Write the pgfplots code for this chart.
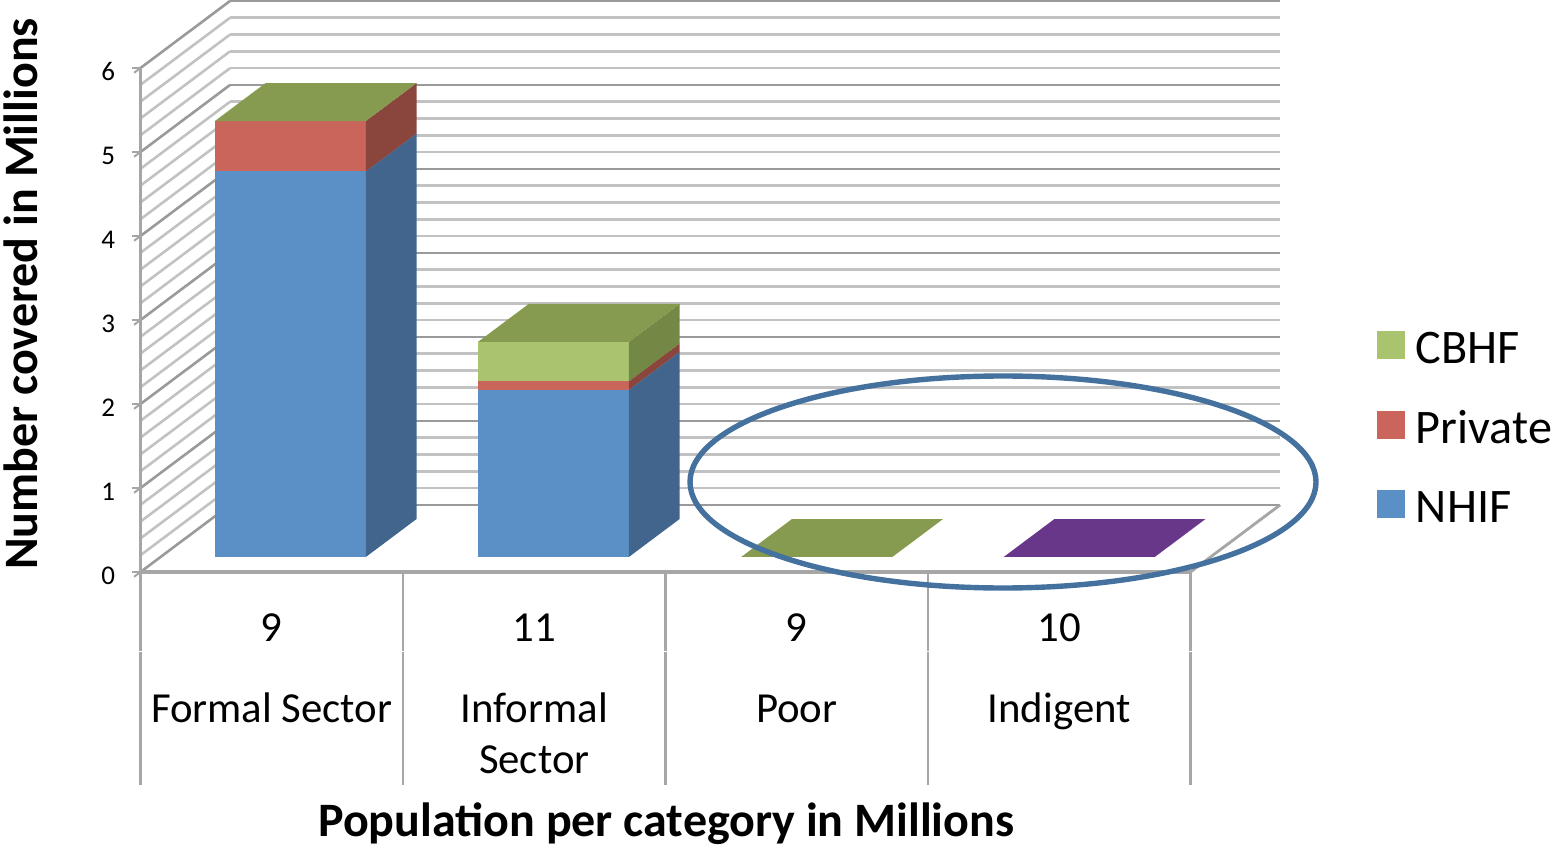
\documentclass[border=0pt]{standalone}
\usepackage{fontspec}
\setmainfont{Carlito}
\usepackage{pgfplots}
\pgfplotsset{compat=1.18}

\definecolor{nhif}{HTML}{5B90C6}
\definecolor{nhifside}{HTML}{41658D}
\definecolor{priv}{HTML}{CA655B}
\definecolor{privside}{HTML}{8A453C}
\definecolor{cbhf}{HTML}{AAC36F}
\definecolor{cbhfside}{HTML}{738845}
\definecolor{cbhftop}{HTML}{869A50}
\definecolor{indigent}{HTML}{69378A}
\definecolor{gridmajor}{HTML}{9A9A9A}
\definecolor{gridminor}{HTML}{C2C2C2}
\definecolor{axisgray}{HTML}{A6A6A6}
\definecolor{ring}{HTML}{45719F}

% One stacked segment: category start, lower and upper value, three face colours.
% The bars occupy depth 0.224 to 0.791 of the floor and 0.575 of a category.
\newcommand{\segment}[6]{%
  \pgfmathsetmacro{\xa}{#1}%
  \pgfmathsetmacro{\xb}{#1+0.575}%
  \edef\temp{\noexpand\addplot3[fill=#4,draw=none,forget plot] coordinates
    {(\xa,0.224,#2) (\xb,0.224,#2) (\xb,0.224,#3) (\xa,0.224,#3)} --cycle;
  \noexpand\addplot3[fill=#5,draw=none,forget plot] coordinates
    {(\xb,0.224,#2) (\xb,0.791,#2) (\xb,0.791,#3) (\xb,0.224,#3)} --cycle;
  \noexpand\addplot3[fill=#6,draw=none,forget plot] coordinates
    {(\xa,0.224,#3) (\xb,0.224,#3) (\xb,0.791,#3) (\xa,0.791,#3)} --cycle;}%
  \temp
}
\newcommand{\catfont}{\fontsize{21.4}{25}\selectfont}
\newcommand{\titlefont}{\bfseries\fontsize{24}{28}\selectfont}

\begin{document}
\begin{tikzpicture}
\path[use as bounding box] (-70.25pt,-137pt) rectangle (705.25pt,286pt);
\begin{axis}[
  at={(0pt,0pt)}, anchor=origin,
  x={(131.25pt,0pt)}, y={(44.75pt,33.5pt)}, z={(0pt,42pt)},
  xmin=0, xmax=4, ymin=0, ymax=1, zmin=0, zmax=6,
  clip=false,
  axis lines=left,
  axis line style={-, draw=axisgray, line width=1.4pt},
  xtick=\empty, ytick=\empty,
  ztick={0,1,2,3,4,5,6},
  minor z tick num=4,
  zmajorgrids, zminorgrids,
  major grid style={draw=gridmajor, line width=1.3pt},
  minor grid style={draw=gridminor, line width=1.3pt},
  minor tick length=0pt,
  major tick length=4pt,
  tick align=outside,
  tick style={draw=axisgray, line width=1pt},
  /pgf/number format/assume math mode=true,
  ticklabel style={font=\fontsize{13.5}{15}\selectfont, text=black},
  zticklabel style={xshift=-6pt, yshift=2.8pt},
  legend style={at={(axis cs:4.709,0,2.905)}, anchor=north west, draw=none, fill=none,
    inner sep=0pt, outer sep=0pt, row sep=18.25pt,
    font=\fontsize{24.1}{28}\selectfont},
  legend cell align=left,
  legend image code/.code={\fill[#1] (0pt,-4.75pt) rectangle (13.75pt,8.75pt);},
]
% Floor edge on the right-hand side
\addplot3[draw=axisgray, line width=1pt, forget plot] coordinates {(4,0,0) (4,1,0)};
% Front axis lines
\addplot3[draw=axisgray, line width=1.6pt, forget plot] coordinates {(0,0,6) (0,0,0) (4,0,0)};

% Separators under the axis
\addplot3[draw=axisgray, line width=1.1pt, forget plot] coordinates {(0,0,0) (0,0,-0.94)};
\addplot3[draw=axisgray, line width=1.1pt, forget plot] coordinates {(0,0,-0.955) (0,0,-2.54)};
\addplot3[draw=axisgray, line width=1.1pt, forget plot] coordinates {(1,0,0) (1,0,-0.94)};
\addplot3[draw=axisgray, line width=1.1pt, forget plot] coordinates {(1,0,-0.955) (1,0,-2.54)};
\addplot3[draw=axisgray, line width=1.1pt, forget plot] coordinates {(2,0,0) (2,0,-0.94)};
\addplot3[draw=axisgray, line width=1.1pt, forget plot] coordinates {(2,0,-0.955) (2,0,-2.54)};
\addplot3[draw=axisgray, line width=1.1pt, forget plot] coordinates {(3,0,0) (3,0,-0.94)};
\addplot3[draw=axisgray, line width=1.1pt, forget plot] coordinates {(3,0,-0.955) (3,0,-2.54)};
\addplot3[draw=axisgray, line width=1.1pt, forget plot] coordinates {(4,0,0) (4,0,-0.94)};
\addplot3[draw=axisgray, line width=1.1pt, forget plot] coordinates {(4,0,-0.955) (4,0,-2.54)};

% Formal Sector: NHIF 4.59, Private 0.60, CBHF 0
\segment{0.207}{0}{4.59}{nhif}{nhifside}{nhif}
\segment{0.207}{4.59}{5.19}{priv}{privside}{cbhftop}
% Informal Sector: NHIF 1.99, Private 0.10, CBHF 0.47
\segment{1.209}{0}{1.99}{nhif}{nhifside}{nhif}
\segment{1.209}{1.99}{2.09}{priv}{privside}{priv}
\segment{1.209}{2.09}{2.56}{cbhf}{cbhfside}{cbhftop}
% Poor and Indigent: nothing covered, only the flat top shows
\segment{2.212}{0}{0}{cbhf}{cbhfside}{cbhftop}
\segment{3.212}{0}{0}{indigent}{indigent}{indigent}

\addlegendimage{cbhf}\addlegendentry{\hspace{3.5pt}CBHF}
\addlegendimage{priv}\addlegendentry{\hspace{3.5pt}Private}
\addlegendimage{nhif}\addlegendentry{\hspace{3.5pt}NHIF}

% Two rows of category labels
\node[font=\catfont, anchor=base] at (axis cs:0.5,0,-0.83) {9};
\node[font=\catfont, anchor=base] at (axis cs:1.5,0,-0.83) {11};
\node[font=\catfont, anchor=base] at (axis cs:2.5,0,-0.83) {9};
\node[font=\catfont, anchor=base] at (axis cs:3.5,0,-0.83) {10};
\node[font=\catfont, anchor=base] at (axis cs:0.5,0,-1.786) {Formal Sector};
\node[font=\catfont, anchor=base] at (axis cs:1.5,0,-1.786) {Informal};
\node[font=\catfont, anchor=base] at (axis cs:1.5,0,-2.393) {Sector};
\node[font=\catfont, anchor=base] at (axis cs:2.5,0,-1.786) {Poor};
\node[font=\catfont, anchor=base] at (axis cs:3.5,0,-1.786) {Indigent};

% Axis titles
\node[font=\titlefont, anchor=base, inner sep=0pt] at (axis cs:2.003,0,-3.145) {Population per category in Millions};
\node[font=\titlefont, rotate=90] at (axis cs:-0.455,0,3.31) {Number covered in Millions};
\end{axis}
% Ring around the two uncovered groups
\draw[ring, line width=2.7pt] (431.25pt,45pt) ellipse [x radius=156.5pt, y radius=53pt];
\end{tikzpicture}
\end{document}
